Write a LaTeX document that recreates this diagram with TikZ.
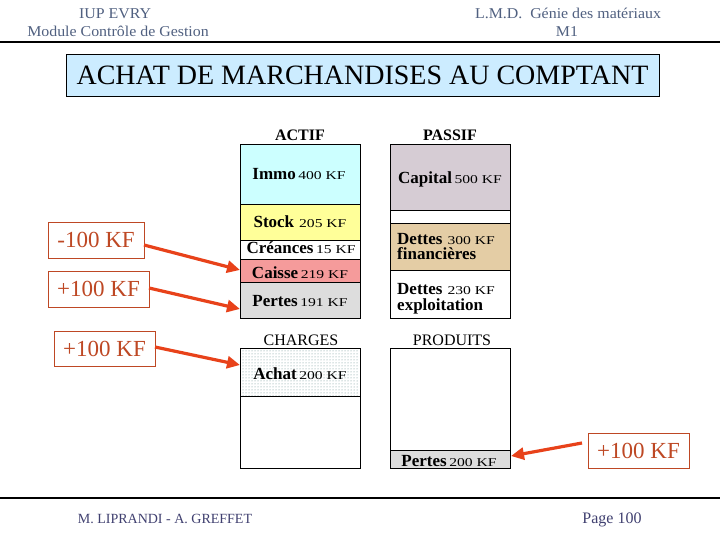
\documentclass[tikz,border=0pt]{standalone}
\usepackage{fontspec}
\setmainfont{Liberation Serif}
\newfontfamily\numfont[FakeStretch=1.3]{Liberation Serif}
\newfontfamily\hdrfont[FakeStretch=1.06]{Liberation Serif}
\usetikzlibrary{arrows.meta,patterns}
\definecolor{hdrcol}{RGB}{80,96,128}
\definecolor{ftrcol}{RGB}{64,64,112}
\definecolor{titlefill}{RGB}{204,236,255}
\definecolor{immofill}{RGB}{204,255,255}
\definecolor{stockfill}{RGB}{255,255,153}
\definecolor{caissefill}{RGB}{245,155,155}
\definecolor{pertesfill}{RGB}{221,221,221}
\definecolor{capfill}{RGB}{214,204,212}
\definecolor{dfinfill}{RGB}{228,205,165}
\definecolor{kfcol}{RGB}{190,72,36}
\definecolor{arrcol}{RGB}{232,66,26}
\definecolor{dotcol}{RGB}{105,145,145}
\newcommand{\cname}[1]{{\fontsize{17}{17}\selectfont\bfseries #1}}
\newcommand{\cnum}[1]{{\numfont\fontsize{12}{12}\selectfont #1}}
\begin{document}
\begin{tikzpicture}[x=1pt,y=-1pt,
  cell/.style={draw=black, line width=0.8pt, anchor=north west, inner sep=0pt, minimum width=120pt},
  lbl/.style={anchor=base, inner sep=0pt},
  lblw/.style={anchor=base west, inner sep=0pt},
  hdr/.style={anchor=base, inner sep=0pt, text=hdrcol, font=\hdrfont\fontsize{15}{15}\selectfont},
  ftr/.style={anchor=base, inner sep=0pt, text=ftrcol},
  colhead/.style={anchor=base, inner sep=0pt, font=\fontsize{16}{16}\selectfont},
  kfbox/.style={draw=kfcol, line width=0.9pt, text=kfcol, inner sep=0pt, minimum height=35pt, font=\fontsize{23}{23}\selectfont},
  kfarrow/.style={draw=arrcol, line width=3.2pt, -{Triangle[length=13pt,width=12pt]}}
]
\useasboundingbox (0,0) rectangle (720,540);
\fill[white] (0,0) rectangle (720,540);

% header
\node[hdr] (h1) at (115,18.3) {IUP EVRY};
\node[hdr] (h2) at (118,36.7) {Module Contrôle de Gestion};
\node[hdr] (h3) at (568,18.3) {L.M.D.\ \ Génie des matériaux};
\node[hdr] (h4) at (567,37) {M1};
\draw[line width=1.3pt] (0,42) -- (720,42);

% title
\node[draw=black, line width=0.9pt, fill=titlefill, anchor=north west, inner sep=0pt,
      minimum width=593pt, minimum height=42pt] (title) at (66,54) {};
\node[lbl, font=\fontsize{28}{28}\selectfont] (titletext) at (362.5,85) {ACHAT DE MARCHANDISES AU COMPTANT};

% column headings
\node[colhead, font=\bfseries\fontsize{16}{16}\selectfont] (actif) at (300,140.7) {ACTIF};
\node[colhead, font=\bfseries\fontsize{16}{16}\selectfont] (passif) at (450,140.7) {PASSIF};
\node[colhead] (charges) at (301,345) {CHARGES};
\node[colhead] (produits) at (452,345) {PRODUITS};

% ACTIF cells
\node[cell, fill=immofill, minimum height=60pt] (immo) at (240,144) {};
\node[cell, fill=stockfill, minimum height=36pt] (stock) at (240,204) {};
\node[cell, fill=white, minimum height=19pt] (creances) at (240,240) {};
\node[cell, fill=caissefill, minimum height=23pt] (caisse) at (240,259) {};
\node[cell, fill=pertesfill, minimum height=36pt] (pertes) at (240,282) {};

% PASSIF cells
\node[cell, fill=capfill, minimum height=66pt] (capital) at (390,144) {};
\node[cell, fill=white, minimum height=13pt] (gap) at (390,210) {};
\node[cell, fill=dfinfill, minimum height=47pt] (dfin) at (390,223) {};
\node[cell, fill=white, minimum height=48pt] (dexp) at (390,270) {};

% CHARGES cells
\node[cell, fill=white, minimum height=48pt] (achat) at (240,348) {};
\fill[pattern=dots, pattern color=dotcol] (241,349) rectangle (359,395);
\node[cell, fill=white, minimum height=72pt] (chrest) at (240,396) {};

% PRODUITS cells
\node[cell, fill=white, minimum height=102pt] (prtop) at (390,348) {};
\node[cell, fill=pertesfill, minimum height=18pt] (pertes2) at (390,450) {};

% cell texts
\node[lbl] (timmo) at (299,179.3) {\cname{Immo} \cnum{400 KF}};
\node[lbl] (tstock) at (300,228) {\cname{Stock}\ \ \cnum{205 KF}};
\node[lbl] (tcre) at (301,253) {\cname{Créances} \cnum{15 KF}};
\node[lbl] (tcai) at (300,278) {\cname{Caisse} \cnum{219 KF}};
\node[lbl] (tper) at (300,306.7) {\cname{Pertes} \cnum{191 KF}};
\node[lbl] (tcap) at (450,184) {\cname{Capital} \cnum{500 KF}};
\node[lblw] (tdf1) at (397,244) {\cname{Dettes}\ \ \cnum{300 KF}};
\node[lblw] (tdf2) at (397,259.5) {\cname{financières}};
\node[lblw] (tde1) at (397,294) {\cname{Dettes}\ \ \cnum{230 KF}};
\node[lblw] (tde2) at (397,310) {\cname{exploitation}};
\node[lbl] (tach) at (300,379) {\cname{Achat} \cnum{200 KF}};
\node[lbl] (tper2) at (449,466) {\cname{Pertes} \cnum{200 KF}};

% KF boxes
\node[kfbox, minimum width=96pt, minimum height=36pt] (b1) at (96,240) {-100 KF};
\node[kfbox, minimum width=101pt, minimum height=36pt] (b2) at (98.5,289) {+100 KF};
\node[kfbox, minimum width=101pt] (b3) at (104.5,348.5) {+100 KF};
\node[kfbox, minimum width=101pt] (b4) at (638.5,450.5) {+100 KF};

% arrows
\coordinate (a1s) at (144,245);
\coordinate (a1e) at (240,270);
\coordinate (a2s) at (149,288);
\coordinate (a2e) at (240,309);
\coordinate (a3s) at (155,347);
\coordinate (a3e) at (240,365);
\coordinate (a4s) at (582,443);
\coordinate (a4e) at (511,456);
\draw[kfarrow] (a1s) -- (a1e);
\draw[kfarrow] (a2s) -- (a2e);
\draw[kfarrow] (a3s) -- (a3e);
\draw[kfarrow] (a4s) -- (a4e);

% footer
\draw[line width=1.3pt] (0,498) -- (720,498);
\node[ftr, font=\fontsize{14}{14}\selectfont] (f1) at (165,523.3) {M. LIPRANDI - A. GREFFET};
\node[ftr, font=\fontsize{16}{16}\selectfont] (f2) at (612,523.3) {Page 100};
\end{tikzpicture}
\end{document}
